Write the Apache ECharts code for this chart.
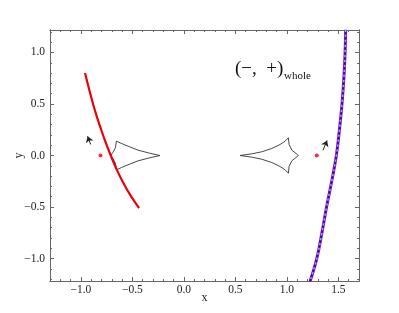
<!DOCTYPE html>
<html><head><meta charset="utf-8">
<script src="https://cdn.jsdelivr.net/npm/echarts@6/dist/echarts.min.js"></script>
<style>html,body{margin:0;padding:0;background:#fff}#c{width:399px;height:313px}</style>
</head><body><div id="c"></div>
<script>
// data
const redCurve = [[-0.96,0.80],[-0.922,0.65],[-0.882,0.50],[-0.843,0.37],[-0.803,0.25],[-0.757,0.12],[-0.71,0.0],[-0.653,-0.135],[-0.589,-0.265],[-0.517,-0.39],[-0.435,-0.51]];
const redDots = [[-0.81,0.0],[1.29,0.0]];
const arrows = [[[-0.905,0.107],[-0.935,0.187]],[[1.35,0.05],[1.39,0.146]]];
const rightCaustic = [[0.545,0.0],[0.658,0.016],[0.756,0.036],[0.853,0.068],[0.934,0.107],[0.982,0.139],[1.015,0.172],[1.021,0.107],[1.048,0.052],[1.112,0.0],[1.048,-0.052],[1.021,-0.107],[1.015,-0.172],[0.982,-0.139],[0.934,-0.107],[0.853,-0.068],[0.756,-0.036],[0.658,-0.016],[0.545,0.0]];
const leftCaustic = [[-0.233,0.0],[-0.347,0.026],[-0.445,0.052],[-0.542,0.09],[-0.606,0.117],[-0.655,0.139],[-0.665,0.075],[-0.688,0.032],[-0.71,0.0],[-0.688,-0.032],[-0.665,-0.075],[-0.655,-0.139],[-0.606,-0.117],[-0.542,-0.09],[-0.445,-0.052],[-0.347,-0.026],[-0.233,0.0]];
const rightCurve = [[1.225,-1.22],[1.29,-1.0],[1.34,-0.75],[1.385,-0.5],[1.435,-0.25],[1.48,0.0],[1.51,0.25],[1.535,0.5],[1.553,0.75],[1.565,1.0],[1.57,1.22]];
const xTicks = [-1.0,-0.5,0.0,0.5,1.0,1.5];
const yTicks = [-1.0,-0.5,0.0,0.5,1.0];
const X_MIN = -1.3, X_MAX = 1.7, Y_MIN = -1.218, Y_MAX = 1.218;

const xMinor = []; for (let i = -12; i <= 16; i++) xMinor.push(i/10);
const yMinor = []; for (let i = -12; i <= 12; i++) yMinor.push(i/10);

const chart = echarts.init(document.getElementById('c'));
const fmt = v => { const r = Math.round(v*10)/10; return (r<0?'\u2212':'') + Math.abs(r).toFixed(1); };
const font = 'Liberation Serif, DejaVu Serif, serif';
const lineCol = '#666';
const axisLine = {show:true,onZero:false,lineStyle:{color:lineCol,width:1}};
function ax(kind, pos, ticks, len, extra) {
  return Object.assign({
    type:'value', position:pos,
    min: kind==='x'?X_MIN:Y_MIN, max: kind==='x'?X_MAX:Y_MAX,
    axisLine:axisLine,
    axisLabel:{show:false},
    axisTick:{show:true,inside:true,length:len,lineStyle:{color:lineCol},customValues:ticks},
    minorTick:{show:false}, splitLine:{show:false}
  }, extra||{});
}
chart.setOption({
  animation:false,
  grid:{left:50,right:40,top:30,bottom:32,outerBoundsMode:'none',containLabel:false},
  xAxis:[
    ax('x','bottom',xTicks,4,{name:'x',nameLocation:'middle',nameGap:11,nameMoveOverlap:false,
      nameTextStyle:{fontFamily:font,fontSize:12,color:'#222'},
      axisLabel:{show:true,fontFamily:font,fontSize:11.5,color:'#222',margin:3,customValues:xTicks,formatter:v=>fmt(v)}}),
    ax('x','bottom',xMinor,2),
    ax('x','top',xTicks,4),
    ax('x','top',xMinor,2)
  ],
  yAxis:[
    ax('y','left',yTicks,4,{name:'y',nameLocation:'middle',nameGap:25,nameRotate:90,nameMoveOverlap:false,
      nameTextStyle:{fontFamily:font,fontSize:12,color:'#222'},
      axisLabel:{show:true,fontFamily:font,fontSize:11.5,color:'#222',margin:5,customValues:yTicks,formatter:v=>fmt(v)}}),
    ax('y','left',yMinor,2),
    ax('y','right',yTicks,4),
    ax('y','right',yMinor,2)
  ],
  series:[
    {type:'line',data:leftCaustic,symbol:'none',lineStyle:{color:'#333',width:0.9},z:3},
    {type:'line',data:rightCaustic,symbol:'none',lineStyle:{color:'#333',width:0.9},z:3},
    {type:'line',data:redCurve,smooth:0.4,symbol:'none',lineStyle:{color:'#e8000b',width:2.2},z:4},
    {type:'scatter',data:redDots,symbol:'circle',symbolSize:4,itemStyle:{color:'#e8000b'},z:5},
    {type:'lines',coordinateSystem:'cartesian2d',data:arrows.map(a=>({coords:a})),symbol:['none','arrow'],symbolSize:6,
      lineStyle:{color:'#222',width:1,opacity:1},z:5},
    {type:'line',data:rightCurve,smooth:0.4,symbol:'none',lineStyle:{color:'#8f00ff',width:3},z:4},
    {type:'line',data:rightCurve,smooth:0.4,symbol:'none',lineStyle:{color:'#222',width:1.4,type:[2,3]},z:5},
    {type:'line',data:rightCurve,smooth:0.4,symbol:'none',lineStyle:{color:'#5fd3a8',width:1.4,type:[2,3],dashOffset:2.5},z:6}
  ],
  graphic:[
    {type:'text',left:235,top:60,style:{text:'(\u2212,\u2002+)',fontFamily:font,fontSize:19,fill:'#111'}},
    {type:'text',left:284,top:71,style:{text:'whole',fontFamily:font,fontSize:11,fill:'#111'}}
  ]
});
</script></body></html>
